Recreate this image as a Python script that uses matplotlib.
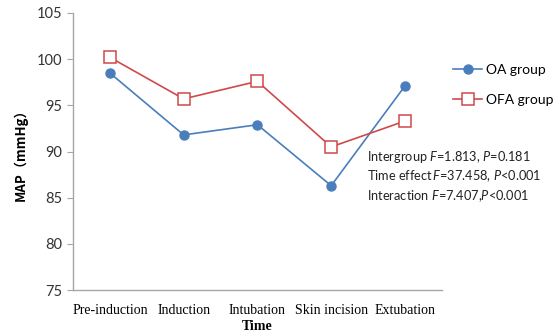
import matplotlib
matplotlib.use("Agg")
import matplotlib.pyplot as plt
from matplotlib.lines import Line2D

categories = ["Pre-induction", "Induction", "Intubation", "Skin incision", "Extubation"]
oa_values = [98.5, 91.8, 92.9, 86.3, 97.1]
ofa_values = [100.2, 95.7, 97.6, 90.5, 93.3]
y_ticks = [75, 80, 85, 90, 95, 100, 105]
stats_lines = [
    "Intergroup $F$=1.813, $P$=0.181",
    "Time effect$\\,F$=37.458, $P$<0.001",
    "Interaction $F$=7.407,$P$<0.001",
]

plt.rcParams["mathtext.fontset"] = "custom"
plt.rcParams["mathtext.rm"] = "Lato"
plt.rcParams["mathtext.it"] = "Lato:italic"

blue = "#4a7ebb"
red = "#d0494a"
axis_gray = "#a6a6a6"

fig = plt.figure(figsize=(5.53, 3.33), dpi=100)
ax = fig.add_axes([0.132, 0.129, 0.667, 0.832])

x = list(range(len(categories)))
ax.plot(x, oa_values, color=blue, lw=1.2, marker="o", ms=6.5,
        mfc=blue, mec=blue, label="OA group", zorder=3)
ax.plot(x, ofa_values, color=red, lw=1.2, marker="s", ms=8,
        mfc="white", mec=red, mew=1.1, label="OFA group", zorder=3)

ax.set_xlim(-0.5, len(categories) - 0.5)
ax.set_ylim(75, 105)
ax.set_yticks(y_ticks)
ax.set_xticks(x)
ax.set_xticklabels(categories, fontfamily="Liberation Serif", fontsize=10)
ax.set_yticklabels([str(v) for v in y_ticks], fontfamily="Lato", fontsize=10.5,
                   color="#333333")
ax.tick_params(axis="x", length=0, pad=10)
ax.tick_params(axis="y", length=4, width=0.8, color=axis_gray, pad=4)

for side in ["top", "right"]:
    ax.spines[side].set_visible(False)
for side in ["left", "bottom"]:
    ax.spines[side].set_color(axis_gray)
    ax.spines[side].set_linewidth(1.0)

ax.set_xlabel("Time", fontfamily="Liberation Serif", fontweight="bold",
              fontsize=10, labelpad=2)
ax.set_ylabel("MAP（mmHg）", fontfamily=["Noto Sans CJK SC", "DejaVu Sans"],
              fontweight="bold", fontsize=9.5, labelpad=6)

handles = [
    Line2D([], [], color=blue, lw=1.2, marker="o", ms=6.5, mfc=blue, mec=blue),
    Line2D([], [], color=red, lw=1.2, marker="s", ms=8, mfc="white", mec=red, mew=1.1),
]
fig.legend(handles, ["OA group", "OFA group"], loc="upper left",
           bbox_to_anchor=(453 / 553, 1 - 64 / 333), frameon=False,
           borderpad=0, borderaxespad=0,
           prop={"family": "Lato", "size": 10}, handlelength=2.1,
           handletextpad=0.3, labelspacing=1.3)

for i, line in enumerate(stats_lines):
    fig.text(0.663, 1 - (157 + i * 19.5) / 333, line, fontfamily="Lato",
             fontsize=9.2, va="center", ha="left", color="#222222")

fig.savefig("out.png", dpi=100)
